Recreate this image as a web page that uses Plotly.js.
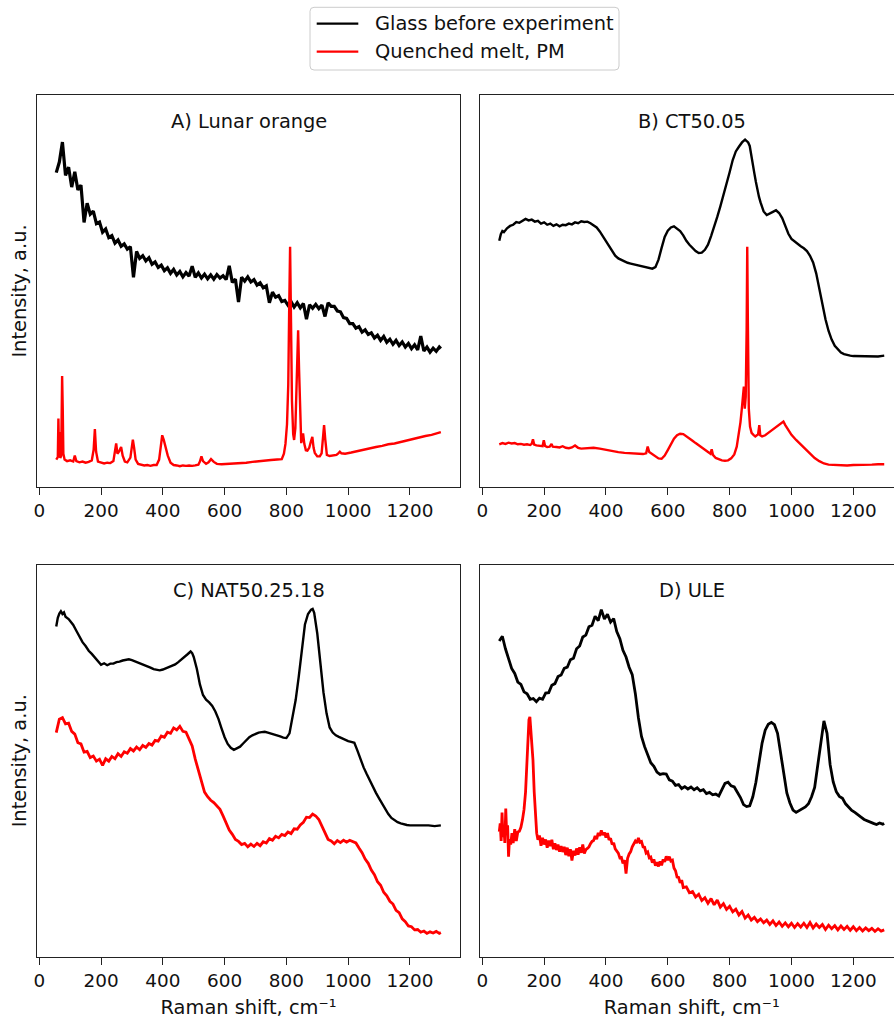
<!DOCTYPE html>
<html>
<head>
<meta charset="utf-8">
<script src="https://cdn.plot.ly/plotly-3.0.1.min.js"></script>
<style>
html, body { margin: 0; padding: 0; overflow: hidden; background: #fff; }
#chart { width: 904px; height: 1019px; }
</style>
</head>
<body>
<div id="chart"></div>
<script>
// ---------------- DATA (Raman shift in cm-1, intensity in arbitrary units, 0-100 of panel) ----------------
var panelTitles = ["A) Lunar orange", "B) CT50.05", "C) NAT50.25.18", "D) ULE"];
var seriesNames = ["Glass before experiment", "Quenched melt, PM"];
var tickValues = [0, 200, 400, 600, 800, 1000, 1200];
var tickLabels = ["0", "200", "400", "600", "800", "1000", "1200"];

var shiftGrid = [55,65,75,85,95,105,115,125,135,145,155,165,175,185,195,205,215,225,235,245,255,265,275,285,295,305,315,325,335,345,355,365,375,385,395,405,415,425,435,445,455,465,475,485,495,505,515,525,535,545,555,565,575,585,595,605,615,625,635,645,655,665,675,685,695,705,715,725,735,745,755,765,775,785,795,805,815,825,835,845,855,865,875,885,895,905,915,925,935,945,955,965,975,985,995,1005,1015,1025,1035,1045,1055,1065,1075,1085,1095,1105,1115,1125,1135,1145,1155,1165,1175,1185,1195,1205,1215,1225,1235,1245,1255,1265,1275,1285,1295,1300];

// A) Lunar orange
var lunarGlass = [80.2,82.9,88.0,79.5,81.6,76.5,80.4,75.8,77.0,67.5,72.4,69.6,70.4,67.2,67.6,65.0,65.8,63.6,64.1,62.2,63.0,61.4,62.0,60.7,61.3,53.5,60.1,58.3,59.0,57.7,58.5,56.8,57.4,56.0,56.6,55.2,55.9,54.5,55.5,54.1,55.0,53.6,54.7,53.8,56.3,53.5,54.6,53.3,54.3,53.1,54.1,53.0,54.2,53.3,53.9,52.9,56.4,52.2,53.0,47.2,53.5,52.5,53.6,52.3,52.9,51.5,52.1,50.8,51.3,47.0,49.7,48.4,48.8,47.3,47.6,46.4,47.3,45.9,47.0,45.7,46.8,42.8,46.5,45.6,46.6,45.5,46.4,43.5,47.0,46.1,46.1,44.9,44.7,43.2,43.0,41.7,41.7,40.5,40.9,39.5,40.1,38.9,39.3,38.0,38.7,37.4,38.4,36.9,37.7,36.4,37.4,36.1,37.0,35.7,36.6,35.3,36.3,35.0,38.5,34.7,35.7,34.4,35.4,34.6,35.7,35.3];

var lunarMeltX = [55,60,62,64,66,68,71,74,76,78,82,90,100,110,115,120,130,140,150,160,170,176,180,184,190,200,210,220,230,240,245,249,253,258,265,270,277,285,295,300,303,307,312,320,330,340,350,360,370,380,388,394,398,403,410,416,425,435,445,455,465,475,485,495,505,515,520,525,530,540,548,556,565,575,590,610,630,650,670,690,710,730,750,770,785,792,797,802,806,809,812,815,818,822,825,829,833,836,838,841,845,848,851,854,858,863,868,874,879,884,888,892,900,908,914,918,922,926,931,940,950,962,968,973,978,990,1010,1030,1050,1070,1090,1110,1130,1150,1170,1190,1210,1230,1250,1270,1290,1300];
var lunarMelt = [7.0,7.6,17.5,8.2,14.0,7.4,8.0,28.3,20.0,8.5,7.0,6.6,6.8,6.5,8.0,6.6,6.3,6.5,6.2,6.4,6.8,9.5,14.8,9.0,6.5,6.3,6.0,6.2,6.1,6.6,9.0,11.1,8.5,9.0,10.2,8.0,6.5,6.3,7.5,10.5,12.1,10.0,7.0,5.9,5.6,5.5,5.6,5.4,5.6,5.6,7.0,11.0,13.2,12.0,10.0,8.0,6.2,5.6,5.5,5.3,5.5,5.4,5.5,5.4,5.5,5.7,6.5,7.8,6.6,5.9,6.3,7.1,6.4,5.9,5.8,5.9,6.0,6.0,6.2,6.4,6.6,6.8,6.9,7.0,7.1,8.5,11.0,16.0,26.0,45.0,61.3,42.0,22.0,13.5,12.0,15.0,27.0,38.0,40.0,30.0,16.0,11.2,12.5,13.7,11.0,9.4,9.3,10.0,11.5,12.8,10.0,8.7,7.8,7.8,8.6,12.0,15.8,12.0,8.2,7.9,8.0,8.2,8.6,9.0,8.6,8.5,8.8,9.2,9.5,9.8,10.2,10.5,10.9,11.1,11.5,11.9,12.2,12.6,13.0,13.3,13.8,14.0];

// B) CT50.05
var ctGlassX = [55,60,65,70,80,90,100,110,120,130,140,150,160,170,180,190,200,210,220,230,240,250,260,270,280,290,300,310,320,330,340,350,360,370,380,390,400,410,420,430,440,450,460,470,480,490,500,510,520,530,540,550,560,570,580,590,600,610,620,630,640,650,660,670,680,690,700,710,720,730,740,750,760,770,780,790,800,810,820,830,840,850,855,860,865,870,875,880,885,890,895,900,910,920,930,940,950,960,970,980,990,1000,1010,1020,1030,1040,1050,1060,1070,1080,1090,1100,1110,1120,1130,1140,1150,1160,1170,1180,1190,1200,1220,1240,1260,1280,1300];
var ctGlass = [62.8,64.5,65.3,65.0,66.0,66.6,66.9,67.6,67.4,68.0,68.4,68.0,68.2,67.7,67.9,67.2,67.5,66.9,67.2,66.6,67.0,66.5,66.9,66.8,67.2,67.0,67.5,67.3,67.8,67.6,67.7,67.3,66.8,66.2,65.2,64.0,62.7,61.3,60.1,59.0,58.3,57.9,57.6,57.2,57.0,56.8,56.5,56.3,56.1,55.9,55.8,55.7,56.1,58.0,61.0,63.8,65.4,66.2,66.5,66.0,65.3,64.2,62.8,61.8,60.9,60.2,59.7,59.8,60.5,61.8,64.0,66.2,68.9,71.6,74.3,77.3,80.3,83.4,85.6,86.8,87.9,88.6,88.3,87.9,87.0,85.0,82.5,80.0,77.8,75.7,74.0,72.6,70.3,69.4,69.7,70.2,70.6,69.9,68.6,66.5,64.6,63.3,62.6,61.9,61.4,60.9,60.2,59.0,57.3,54.5,50.5,46.5,42.8,39.8,37.6,36.0,35.0,34.3,33.9,33.6,33.5,33.4,33.4,33.3,33.4,33.3,33.5];

var ctMeltX = [55,65,75,85,95,105,115,125,135,145,155,160,164,168,175,185,195,199,203,210,218,224,228,240,250,260,270,280,290,300,310,320,340,360,380,400,420,440,460,480,500,520,530,535,540,550,560,570,580,590,600,610,620,630,640,650,660,670,680,690,700,710,720,730,738,742,746,755,765,775,785,795,805,815,823,830,835,839,842,846,849,852,855,857,859,862,866,871,877,883,888,892,896,899,905,915,925,935,945,955,965,974,980,990,1000,1015,1030,1045,1060,1075,1090,1105,1120,1140,1160,1180,1200,1220,1240,1260,1280,1300];
var ctMelt = [10.9,11.2,11.0,11.3,11.1,11.2,10.9,11.0,10.8,10.9,10.7,11.0,12.2,10.8,10.6,10.5,10.4,11.9,10.5,10.2,10.3,11.0,10.3,10.2,10.1,10.4,10.0,9.9,10.1,10.6,10.0,9.8,9.9,10.0,9.8,9.5,9.1,8.9,8.7,8.6,8.5,8.4,8.6,10.3,8.9,8.3,7.8,7.3,7.2,8.0,9.4,11.0,12.3,13.2,13.6,13.5,13.0,12.4,11.8,11.2,10.6,10.0,9.4,8.8,8.5,9.6,8.2,7.4,7.0,6.8,6.7,6.8,7.3,8.3,10.3,13.5,16.5,19.6,23.0,25.6,20.0,23.0,40.0,61.3,42.0,20.0,15.4,13.8,13.3,12.9,13.2,13.4,15.8,13.2,12.9,13.2,13.8,14.4,15.0,15.5,16.0,16.7,15.8,14.4,13.3,12.0,10.9,9.7,8.5,7.4,6.6,6.0,5.7,5.6,5.5,5.5,5.6,5.6,5.7,5.7,5.8,5.8];

// C) NAT50.25.18
var natGlassX = [55,60,65,70,75,80,85,90,95,100,110,120,130,140,150,160,170,180,190,200,210,220,230,240,250,260,270,280,290,300,310,320,330,340,350,360,370,380,390,400,410,420,430,440,450,460,470,480,490,495,500,505,510,515,520,530,540,550,560,570,580,590,600,610,620,630,640,650,660,670,680,690,700,710,720,730,740,750,760,770,780,790,800,810,820,830,840,850,860,870,880,885,890,900,910,920,930,940,950,960,970,980,990,1000,1010,1020,1030,1040,1050,1060,1070,1080,1090,1100,1110,1120,1130,1140,1150,1160,1170,1180,1190,1200,1220,1240,1260,1280,1300];
var natGlass = [84.3,86.5,87.6,88.2,87.5,87.9,86.8,86.6,86.2,85.7,84.7,83.2,81.7,80.3,79.3,78.1,77.3,76.3,75.4,74.5,74.9,74.4,74.8,74.8,75.2,75.3,75.6,75.8,75.9,75.7,75.4,75.2,74.8,74.5,74.1,73.8,73.4,73.2,73.1,73.3,73.6,73.8,74.1,74.6,75.2,75.8,76.4,77.2,77.9,77.5,76.5,75.2,73.5,71.5,69.5,66.8,65.6,64.9,64.0,62.6,60.7,58.3,56.0,54.3,53.3,52.8,53.1,53.6,54.4,55.2,56.0,56.5,56.9,57.2,57.3,57.4,57.2,57.0,56.8,56.5,56.2,55.9,55.8,57.0,60.8,65.5,71.5,78.5,84.8,87.5,88.6,88.8,87.8,82.5,74.5,67.5,62.1,58.5,57.2,56.5,56.1,55.7,55.2,55.0,54.8,54.6,52.6,50.3,48.3,46.6,44.9,43.2,41.8,40.4,39.0,37.6,36.4,35.4,34.8,34.3,34.0,33.7,33.6,33.5,33.5,33.4,33.5,33.3,33.5];

var natMelt = [57.2,60.6,61.0,59.4,59.6,57.5,56.8,54.6,54.3,52.2,52.4,50.8,51.2,49.9,50.4,48.8,50.5,49.9,51.1,50.5,51.8,51.1,52.3,51.9,53.1,52.5,53.5,52.8,53.9,53.4,54.4,54.0,55.2,55.0,56.3,56.0,57.3,57.0,58.4,57.9,58.8,57.5,57.3,55.6,53.8,50.4,47.5,44.3,42.0,40.8,39.9,39.3,38.5,37.6,35.9,34.3,32.3,31.2,29.9,29.4,28.6,28.9,28.0,28.7,28.1,28.9,28.3,29.3,29.0,30.1,29.7,30.7,30.3,31.2,30.9,31.8,31.4,32.6,32.5,33.6,34.3,35.6,35.5,36.4,35.9,35.0,33.2,31.3,29.9,29.5,28.8,29.6,29.1,29.7,29.2,29.7,29.3,29.0,27.7,26.5,24.9,23.8,22.1,20.9,19.1,18.2,16.4,15.5,14.1,13.4,11.8,11.2,9.6,8.9,7.8,7.6,6.8,6.9,6.2,6.5,5.9,6.3,6.0,6.4,5.9,6.1];

// D) ULE
var uleGlass = [80.6,81.8,78.6,76.3,73.6,72.3,70.1,69.5,67.6,67.1,65.7,65.9,65.1,66.0,65.7,67.3,67.4,69.3,69.7,71.5,71.9,73.6,73.9,75.8,76.2,78.6,79.3,81.6,82.1,84.2,84.6,86.9,85.8,88.6,86.2,87.4,85.4,86.3,83.0,81.2,78.2,76.5,73.9,72.0,67.2,61.0,56.2,53.6,51.7,49.5,48.6,47.1,46.5,46.7,46.6,45.1,44.8,43.7,43.9,42.9,43.4,42.8,43.3,42.6,43.1,42.3,42.6,41.6,41.9,41.3,41.5,41.0,42.6,44.2,44.5,43.6,43.3,41.9,40.6,38.8,38.3,38.5,40.8,44.5,49.5,54.5,57.8,59.3,59.8,59.2,57.0,52.0,46.3,41.8,39.2,37.4,36.8,37.2,37.6,38.2,39.0,40.8,43.2,48.5,55.0,60.2,57.0,49.0,44.6,42.1,40.9,40.4,39.0,38.2,37.3,36.8,36.1,35.6,35.0,34.6,34.2,34.0,33.7,34.1,33.8,34.0];

var uleMeltX = [55,58,61,64,67,70,73,76,79,82,85,88,92,96,100,105,110,115,120,125,130,135,140,144,148,151,154,157,160,164,168,172,176,180,185,190,195,200,205,210,215,220,225,230,235,240,245,250,255,260,265,270,275,280,285,290,295,300,305,310,315,320,325,330,335,340,345,350,355,360,365,370,375,380,385,390,395,400,405,410,415,420,425,430,435,440,445,450,455,460,465,470,475,480,485,490,495,500,505,510,515,520,525,530,535,540,545,550,555,560,565,570,575,580,585,590,595,600,605,610,615,620,625,630,635,640,645,650,660,670,680,690,700,710,720,730,740,750,760,770,780,790,800,810,820,830,840,850,860,870,880,890,900,910,920,930,940,950,960,970,980,990,1000,1010,1020,1030,1040,1050,1060,1070,1080,1090,1100,1110,1120,1130,1140,1150,1160,1170,1180,1190,1200,1210,1220,1230,1240,1250,1260,1270,1280,1290,1300];
var uleMelt = [31.9,34.0,29.5,36.8,30.5,33.0,29.0,37.8,31.0,33.5,25.5,30.0,28.6,31.5,29.0,32.5,29.5,31.8,32.0,33.0,34.9,37.5,42.0,49.4,56.0,60.5,61.2,58.0,53.5,50.2,42.0,36.0,31.5,29.8,30.9,28.3,30.3,28.6,29.9,27.8,29.6,28.2,29.8,27.4,28.9,27.2,28.6,26.8,28.2,26.7,28.0,25.9,27.8,25.6,27.4,24.5,27.0,25.8,27.6,26.0,27.9,26.5,28.6,26.3,27.3,27.6,28.0,28.8,29.4,29.6,30.8,30.0,31.6,30.8,32.2,31.0,31.7,30.4,31.5,29.8,30.2,28.6,29.0,27.5,26.8,26.4,25.2,25.3,23.8,24.6,21.2,25.1,26.2,26.8,28.0,28.6,29.5,29.0,30.3,29.2,29.4,28.0,27.9,26.4,26.7,25.2,25.4,24.0,24.8,23.2,24.1,23.0,24.3,23.3,24.8,24.2,25.6,24.6,25.5,24.4,24.6,22.6,21.9,20.3,20.2,18.8,19.5,17.6,17.8,16.3,16.6,15.2,15.9,14.3,15.0,13.6,14.8,13.2,14.4,12.6,13.5,12.0,12.8,11.4,12.1,10.6,11.5,9.8,10.6,9.3,10.0,8.9,9.6,8.6,9.3,8.2,9.1,7.9,8.8,7.7,8.6,7.6,8.5,7.4,8.4,7.5,8.5,7.4,8.7,7.3,8.3,7.4,8.2,6.9,8.0,7.1,7.9,6.8,7.8,6.9,7.7,6.7,7.6,6.6,7.4,6.5,7.3,6.6,7.2,6.4,7.1,6.5,6.8];

// ---------------- PLOT ----------------
var FONT = "DejaVu Sans";
var TXT = 19.4, TICK = 18.4;
var BLACK = "#000000", RED = "#ff0000";
var LW = 2.4;

function tr(x, y, color, name, ax, w) {
  return { type: "scatter", mode: "lines", x: x, y: y, name: name,
           line: { color: color, width: w || LW }, xaxis: "x" + ax, yaxis: "y" + ax,
           showlegend: false, hoverinfo: "skip" };
}

var data = [
  tr(shiftGrid, lunarGlass, BLACK, seriesNames[0], "", 3.2),
  tr(lunarMeltX, lunarMelt, RED, seriesNames[1], ""),
  tr(ctGlassX, ctGlass, BLACK, seriesNames[0], "2"),
  tr(ctMeltX, ctMelt, RED, seriesNames[1], "2"),
  tr(natGlassX, natGlass, BLACK, seriesNames[0], "3"),
  tr(shiftGrid, natMelt, RED, seriesNames[1], "3", 2.8),
  tr(shiftGrid, uleGlass, BLACK, seriesNames[0], "4", 2.8),
  tr(uleMeltX, uleMelt, RED, seriesNames[1], "4", 2.8)
];

var W = 904, H = 1019;
function px(v) { return v / W; }
function py(v) { return (H - v) / H; }

function xax(dom, withTitle) {
  var a = { domain: dom, range: [-7, 1362], showgrid: false, zeroline: false,
    showline: true, linecolor: "#222", linewidth: 1, mirror: true,
    ticks: "outside", ticklen: 7, tickwidth: 1, tickcolor: "#222",
    tickvals: tickValues, ticktext: tickLabels,
    tickfont: { family: FONT, size: TICK, color: "#111" } };
  if (withTitle) {
    a.title = { text: "Raman shift, cm\u207B\u00B9", font: { family: FONT, size: TXT, color: "#111" } };
  }
  return a;
}
function yax(dom, withTitle) {
  var a = { domain: dom, range: [0, 100], showgrid: false, zeroline: false,
    showline: true, linecolor: "#222", linewidth: 1, mirror: true,
    ticks: "", showticklabels: false };
  if (withTitle) {
    a.title = { text: "Intensity, a.u.", font: { family: FONT, size: TXT, color: "#111" }, standoff: 4 };
  }
  return a;
}

var xLeft = [px(37.1), px(460.0)];
var xRight = [px(480.1), px(903.4)];
var yTop = [py(487), py(95)];
var yBot = [py(956.5), py(565)];

// panel titles (paper coordinates: centre of each panel, near its top)
var titleX = [px(248.5), px(691.8), px(248.5), px(691.8)];
var titleY = [py(121.5), py(121.5), py(590.5), py(590.5)];
var annotations = [];
for (var i = 0; i < 4; i++) {
  annotations.push({ text: panelTitles[i], xref: "paper", yref: "paper",
    x: titleX[i], y: titleY[i], xanchor: "center", yanchor: "middle", showarrow: false,
    font: { family: FONT, size: TXT, color: "#111" } });
}
// legend drawn as a box with line samples and labels
var legRows = [23.7, 51.7];
var legColors = [BLACK, RED];
var shapes = [];
var lx0 = px(310), lx1 = px(619), lyt = py(7.3), lyb = py(70);
var rx = 4 / W, ry = 4 / H;
shapes.push({ type: "path", xref: "paper", yref: "paper",
  path: "M" + (lx0 + rx) + "," + lyt + " L" + (lx1 - rx) + "," + lyt + " Q" + lx1 + "," + lyt + " " + lx1 + "," + (lyt - ry) +
        " L" + lx1 + "," + (lyb + ry) + " Q" + lx1 + "," + lyb + " " + (lx1 - rx) + "," + lyb +
        " L" + (lx0 + rx) + "," + lyb + " Q" + lx0 + "," + lyb + " " + lx0 + "," + (lyb + ry) +
        " L" + lx0 + "," + (lyt - ry) + " Q" + lx0 + "," + lyt + " " + (lx0 + rx) + "," + lyt + " Z",
  line: { color: "#cccccc", width: 1 }, fillcolor: "rgba(255,255,255,0.9)", layer: "above" });
for (var j = 0; j < 2; j++) {
  shapes.push({ type: "line", xref: "paper", yref: "paper", x0: px(316.7), x1: px(358.3), y0: py(legRows[j]), y1: py(legRows[j]),
    line: { color: legColors[j], width: 2.2 }, layer: "above" });
  annotations.push({ text: seriesNames[j], xref: "paper", yref: "paper", x: px(372.7), y: py(legRows[j]),
    xanchor: "left", yanchor: "middle", showarrow: false, font: { family: FONT, size: TXT, color: "#111" } });
}

var layout = {
  width: W, height: H, margin: { l: 0, r: 0, t: 0, b: 0 },
  paper_bgcolor: "#ffffff", plot_bgcolor: "#ffffff", showlegend: false,
  font: { family: FONT, size: TXT, color: "#111" },
  xaxis: xax(xLeft, false), yaxis: yax(yTop, true),
  xaxis2: xax(xRight, false), yaxis2: yax(yTop, false),
  xaxis3: xax(xLeft, true), yaxis3: yax(yBot, true),
  xaxis4: xax(xRight, true), yaxis4: yax(yBot, false),
  annotations: annotations, shapes: shapes
};
layout.xaxis.anchor = "y"; layout.yaxis.anchor = "x";
layout.xaxis2.anchor = "y2"; layout.yaxis2.anchor = "x2";
layout.xaxis3.anchor = "y3"; layout.yaxis3.anchor = "x3";
layout.xaxis4.anchor = "y4"; layout.yaxis4.anchor = "x4";

Plotly.newPlot("chart", data, layout, { displayModeBar: false, staticPlot: true }).then(function (gd) {
  // drop empty placeholder texts (axes without titles, unlabeled shapes)
  var texts = gd.querySelectorAll("text");
  for (var k = 0; k < texts.length; k++) {
    if (!texts[k].textContent.trim()) { texts[k].parentNode.removeChild(texts[k]); }
  }
});
</script>
</body>
</html>
